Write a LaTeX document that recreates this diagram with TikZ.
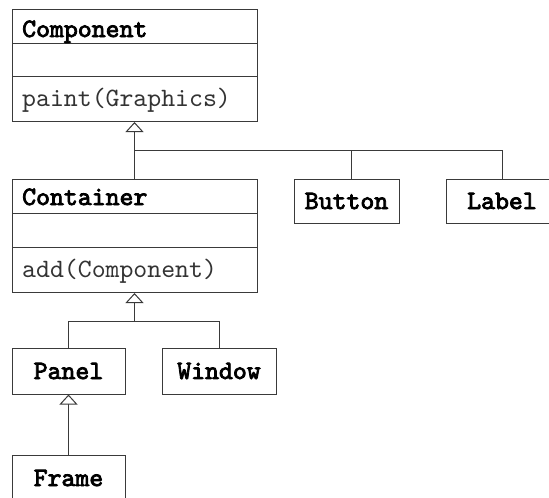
\documentclass[tikz,border=0pt]{standalone}
\usepackage{fontspec}
\newfontfamily\boldmono{lmmono10-regular.otf}[FakeBold=3]
\newfontfamily\plainmono{lmmono10-regular.otf}
\usetikzlibrary{arrows.meta}
\definecolor{linec}{HTML}{3A3A3A}
\definecolor{methc}{HTML}{333333}
\tikzset{
  umlbox/.style={draw=linec, line width=1pt, fill=white, rectangle, inner sep=0pt, anchor=north west},
  simplebox/.style={draw=linec, line width=1pt, fill=white, rectangle, inner sep=0pt,
     font=\fontsize{26.5}{30}\selectfont\boldmono},
  titletext/.style={anchor=base west, inner sep=0pt, font=\fontsize{26.5}{30}\selectfont\boldmono},
  methtext/.style={anchor=base west, inner sep=0pt, text=methc, font=\fontsize{26.5}{30}\selectfont\plainmono},
  conn/.style={draw=linec, line width=1pt},
  inherit/.style={conn, -{Triangle[open, width=18pt, length=10pt, fill=white]}},
}
\begin{document}
\begin{tikzpicture}[x=1pt,y=-1pt]
\useasboundingbox (0,0) rectangle (549,498);
\clip (0,0) rectangle (549,498);
% Component class
\node[umlbox, minimum width=245pt, minimum height=112pt] (component) at (12,9) {};
\draw[conn] (12,43) -- (257,43) (12,76) -- (257,76);
\node[titletext] (componentname) at (22,37) {Component};
\node[methtext] (paint) at (22,106) {paint(Graphics)};
% Container class
\node[umlbox, minimum width=245pt, minimum height=113pt] (container) at (12,179) {};
\draw[conn] (12,213) -- (257,213) (12,247) -- (257,247);
\node[titletext] (containername) at (22,205) {Container};
\node[methtext] (add) at (22,277) {add(Component)};
% simple classes
\node[simplebox, minimum width=105pt, minimum height=44pt] (button) at (346.5,201) {Button};
\node[simplebox, minimum width=112pt, minimum height=44pt] (label) at (502,201) {Label};
\node[simplebox, minimum width=113pt, minimum height=46pt] (panel) at (68.5,371) {Panel};
\node[simplebox, minimum width=114pt, minimum height=46pt] (window) at (219,371) {Window};
\node[simplebox, minimum width=113pt, minimum height=46pt] (frame) at (68.5,478) {Frame};
% connectors
\coordinate (j1) at (134.5,150);
\coordinate (j2) at (134.5,321);
\draw[conn] (j1) -| (label.north);
\draw[conn] (j1 -| 351,0) -- (351,179);
\draw[inherit] (container.north -| j1) -- (component.south -| j1);
\draw[conn] (j2) -| (panel.north);
\draw[conn] (j2) -| (window.north);
\draw[inherit] (j2) -- (container.south -| j2);
\draw[inherit] (frame.north) -- (panel.south);
\end{tikzpicture}
\end{document}
